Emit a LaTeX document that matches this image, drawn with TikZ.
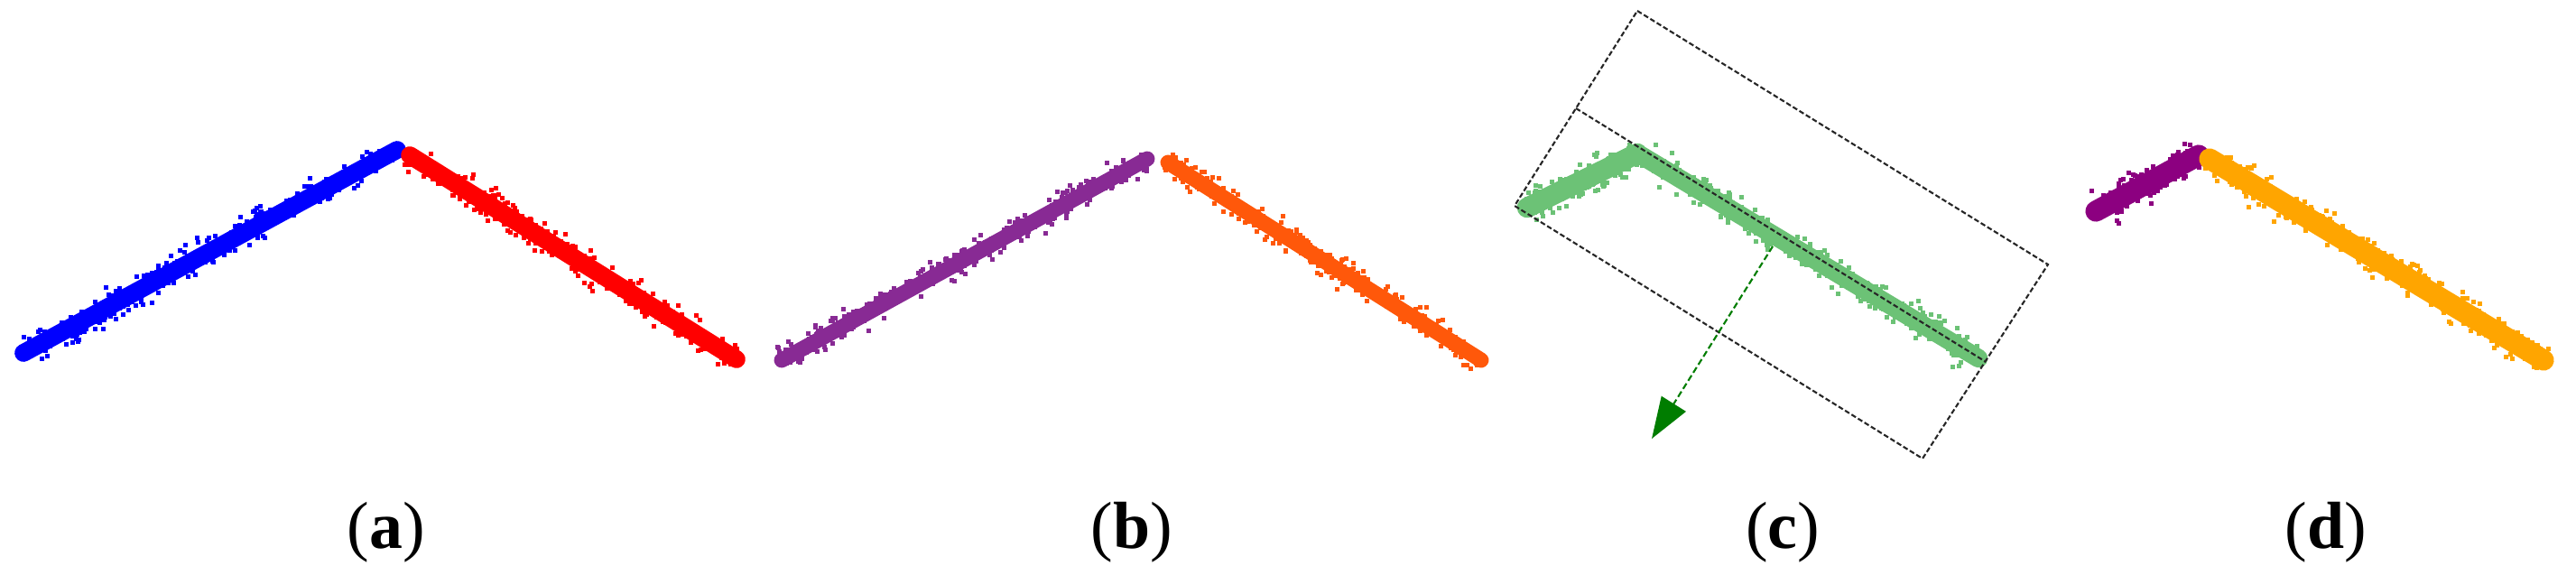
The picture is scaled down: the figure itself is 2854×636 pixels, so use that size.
\documentclass[tikz,border=0pt]{standalone}
\usepackage{fontspec}
\setmainfont{Liberation Serif}
\usetikzlibrary{arrows.meta,calc}
\definecolor{cBlue}{RGB}{0,0,255}
\definecolor{cRed}{RGB}{255,0,0}
\definecolor{cPurpB}{RGB}{136,42,148}
\definecolor{cOrB}{RGB}{255,88,10}
\definecolor{cGreen}{RGB}{108,194,118}
\definecolor{cDkGreen}{RGB}{0,125,0}
\definecolor{cPurpD}{RGB}{140,0,128}
\definecolor{cOrD}{RGB}{255,165,0}
% color, x1, y1, x2, y2, number of dots, spread, core width (pt)
\newcommand\ptcloud[8]{%
  \draw[#1, line width=#8, line cap=round] (#2,#3) -- (#4,#5);
  \pgfmathsetmacro\pcdx{#4-#2}%
  \pgfmathsetmacro\pcdy{#5-#3}%
  \pgfmathsetmacro\pclen{veclen(\pcdx,\pcdy)}%
  \pgfmathsetmacro\pcnx{-\pcdy/\pclen}%
  \pgfmathsetmacro\pcny{\pcdx/\pclen}%
  \foreach \k in {1,...,#6}{%
    \pgfmathsetmacro\pct{rnd}%
    \pgfmathsetmacro\pco{(rnd+rnd+rnd-1.5)*#7}%
    \pgfmathsetmacro\pcx{#2+\pct*\pcdx+\pco*\pcnx-2.5}%
    \pgfmathsetmacro\pcy{#3+\pct*\pcdy+\pco*\pcny-2.5}%
    \fill[#1] (\pcx,\pcy) rectangle ++(5,5);
  }%
}
\tikzset{
  boxline/.style={draw=black!85, line width=0.6pt, dash pattern=on 1.6pt off 0.8pt},
  normarrow/.style={draw=cDkGreen, line width=0.6pt, dash pattern=on 2pt off 1pt,
    -{Triangle[length=13pt,width=9pt,fill=cDkGreen]}},
  lab/.style={anchor=base, inner sep=0pt, font=\fontsize{21}{25}\selectfont}
}
\begin{document}
\begin{tikzpicture}[x=0.01cm, y=-0.01cm]
\path[use as bounding box, fill=white] (0,0) rectangle (2854,636);
\pgfmathsetseed{7}
% (a)
\ptcloud{cBlue}{26}{391}{440}{166}{360}{16}{5.6pt}
\ptcloud{cRed}{454}{172}{816}{398}{340}{16}{5.6pt}
% (b)
\ptcloud{cPurpB}{866}{399}{1271}{176}{340}{14}{4.8pt}
\ptcloud{cOrB}{1294}{180}{1641}{399}{320}{14}{4.8pt}
% (c)
\coordinate (T) at (1814,12);
\coordinate (R) at (2269,293);
\coordinate (B) at (2130,508);
\coordinate (L) at (1678,228);
\coordinate (M1) at ($(L)!0.5!(T)$);
\coordinate (M2) at ($(R)!0.5!(B)$);
\ptcloud{cGreen}{1692}{230}{1814}{170}{180}{17}{6.4pt}
\ptcloud{cGreen}{1818}{172}{2192}{397}{360}{16}{5.8pt}
\draw[boxline] (T) -- (R) -- (B) -- (L) -- cycle;
\draw[boxline] (M1) -- (M2);
\coordinate (A1) at (1964,273);
\coordinate (A2) at (1830,486);
\draw[normarrow] (A1) -- (A2);
% (d)
\ptcloud{cPurpD}{2322}{234}{2436}{172}{180}{17}{6.6pt}
\ptcloud{cOrD}{2448}{176}{2818}{399}{380}{17}{6.6pt}
% labels
\node[lab] (la) at (428,607) {(\textbf{a})};
\node[lab] (lb) at (1254,607) {(\textbf{b})};
\node[lab] (lc) at (1975,607) {(\textbf{c})};
\node[lab] (ld) at (2577,607) {(\textbf{d})};
\end{tikzpicture}
\end{document}
